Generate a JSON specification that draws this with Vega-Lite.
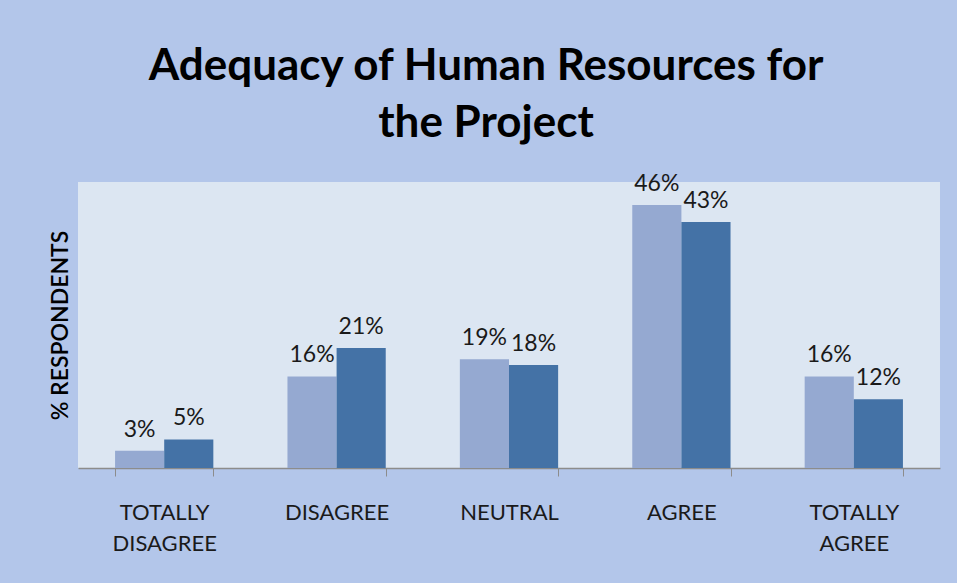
{
  "$schema": "https://vega.github.io/schema/vega-lite/v6.json",
  "width": 862,
  "height": 286,
  "autosize": {"type": "none"},
  "padding": {"left": 78, "top": 182, "right": 17, "bottom": 115},
  "background": "#B3C6EA",
  "title": {
    "text": ["Adequacy of Human Resources for", "the Project"],
    "font": "Lato",
    "fontSize": 44,
    "fontWeight": "bold",
    "color": "#000000",
    "lineHeight": 57,
    "anchor": "middle",
    "dx": -23,
    "offset": 27
  },
  "config": {
    "view": {"fill": "#DCE6F2", "stroke": null},
    "font": "Lato"
  },
  "data": {
    "values": [
      {"response": "TOTALLY DISAGREE", "series": "Survey 1", "pct": 0.03},
      {"response": "TOTALLY DISAGREE", "series": "Survey 2", "pct": 0.05},
      {"response": "DISAGREE", "series": "Survey 1", "pct": 0.16},
      {"response": "DISAGREE", "series": "Survey 2", "pct": 0.21},
      {"response": "NEUTRAL", "series": "Survey 1", "pct": 0.19},
      {"response": "NEUTRAL", "series": "Survey 2", "pct": 0.18},
      {"response": "AGREE", "series": "Survey 1", "pct": 0.46},
      {"response": "AGREE", "series": "Survey 2", "pct": 0.43},
      {"response": "TOTALLY AGREE", "series": "Survey 1", "pct": 0.16},
      {"response": "TOTALLY AGREE", "series": "Survey 2", "pct": 0.12}
    ]
  },
  "encoding": {
    "x": {
      "field": "response",
      "type": "nominal",
      "sort": null,
      "scale": {"paddingInner": 0.43, "paddingOuter": 0.215},
      "axis": {
        "title": null,
        "labelAngle": 0,
        "labelExpr": "split(datum.label, ' ')",
        "labelFont": "Lato",
        "labelFontSize": 22,
        "labelColor": "#1a1a1a",
        "labelPadding": 26,
        "labelLineHeight": 31,
        "labelBaseline": "top",
        "tickBand": "extent",
        "tickColor": "#8C8C8C",
        "tickSize": 8,
        "domainColor": "#8C8C8C",
        "domainWidth": 1.5
      }
    },
    "xOffset": {"field": "series", "type": "nominal", "scale": {"paddingInner": 0, "paddingOuter": 0}},
    "y": {
      "field": "pct",
      "type": "quantitative",
      "scale": {"domain": [0, 0.5], "nice": false},
      "axis": {
        "title": "% RESPONDENTS",
        "titleFont": "Lato",
        "titleFontSize": 23,
        "titleFontWeight": 600,
        "titleColor": "#000000",
        "titlePadding": 6,
        "labels": false,
        "ticks": false,
        "domain": false,
        "grid": false
      }
    }
  },
  "layer": [
    {
      "mark": {"type": "bar"},
      "encoding": {
        "color": {
          "field": "series",
          "type": "nominal",
          "scale": {"range": ["#95A9D1", "#4472A6"]},
          "legend": null
        }
      }
    },
    {
      "mark": {"type": "text", "baseline": "bottom", "dy": -9, "fontSize": 23, "font": "Lato", "color": "#1a1a1a"},
      "encoding": {
        "text": {"field": "pct", "type": "quantitative", "format": ".0%"}
      }
    }
  ]
}
